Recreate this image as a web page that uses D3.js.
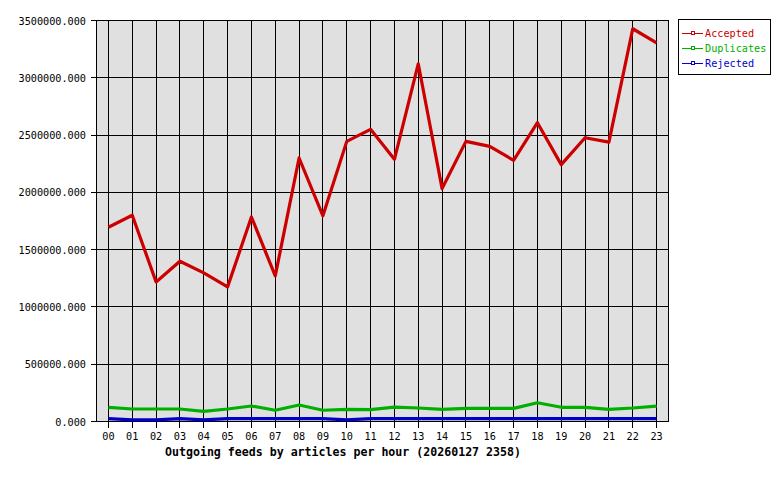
<!DOCTYPE html>
<html><head><meta charset="utf-8">
<script src="https://cdn.jsdelivr.net/npm/d3@7/dist/d3.min.js"></script>
<style>body{margin:0;background:#fff}svg{display:block}text{font-family:"DejaVu Sans Mono","Liberation Mono",monospace}</style>
</head><body><svg id="c" width="780" height="480"></svg>
<script>
const hours = ["00","01","02","03","04","05","06","07","08","09","10","11","12","13","14","15","16","17","18","19","20","21","22","23"];
const accepted = [1695000,1800000,1218000,1399000,1297000,1175000,1785000,1271000,2300000,1795000,2445000,2550000,2288000,3122000,2033000,2445000,2401000,2280000,2608000,2242000,2477000,2439000,3428000,3305000];
const duplicates = [124000,109000,109000,109000,89000,109000,135000,98000,144000,98000,106000,103000,126000,118000,106000,115000,115000,115000,164000,124000,124000,106000,118000,135000];
const rejected = [25000,15000,15000,25000,15000,25000,25000,25000,25000,25000,15000,25000,25000,25000,25000,25000,25000,25000,25000,25000,25000,25000,25000,25000];
const yTicks = [0,500000,1000000,1500000,2000000,2500000,3000000,3500000];
const seriesNames = ["Accepted","Duplicates","Rejected"];
const seriesColors = ["#cc0000","#00b000","#0000cc"];
const title = "Outgoing feeds by articles per hour (20260127 2358)";

const svg = d3.select("#c");
const L=96.5,R=668.5,T=20.5,B=421.5;
const x = d3.scalePoint().domain(hours).range([L,R]).padding(0.5);
const y = d3.scaleLinear().domain([0,3500000]).range([B,T]);
const snap = v => Math.floor(v)+0.5;

svg.append("rect").attr("x",L).attr("y",T).attr("width",R-L).attr("height",B-T).attr("fill","#e0e0e0");
svg.append("g").selectAll("line").data(yTicks).join("line")
  .attr("x1",L-6).attr("x2",R).attr("y1",d=>snap(y(d))).attr("y2",d=>snap(y(d)))
  .attr("stroke","#000").attr("stroke-width",1).attr("shape-rendering","crispEdges");
svg.append("g").selectAll("line").data(hours).join("line")
  .attr("x1",d=>snap(x(d))).attr("x2",d=>snap(x(d))).attr("y1",T).attr("y2",B+6)
  .attr("stroke","#000").attr("stroke-width",1).attr("shape-rendering","crispEdges");
svg.append("rect").attr("x",L).attr("y",T).attr("width",R-L).attr("height",B-T).attr("fill","none").attr("stroke","#000").attr("shape-rendering","crispEdges");

svg.append("g").selectAll("text").data(yTicks).join("text")
  .attr("x",86).attr("y",d=>y(d)+4).attr("text-anchor","end").attr("font-size","10.2px").attr("fill","#000")
  .text(d=>d3.format(".3f")(d));
svg.append("g").selectAll("text").data(hours).join("text")
  .attr("x",d=>x(d)).attr("y",440).attr("text-anchor","middle").attr("font-size","10.2px").attr("fill","#000")
  .text(d=>d);
svg.append("text").attr("x",343).attr("y",456).attr("text-anchor","middle").attr("font-size","11.6px").attr("font-weight","bold").attr("fill","#000").text(title);

const line = d3.line().x((d,i)=>x(hours[i])).y(d=>y(d));
[accepted,duplicates,rejected].forEach((s,k)=>{
  svg.append("path").datum(s).attr("d",line).attr("fill","none").attr("stroke",seriesColors[k]).attr("stroke-width",3.2).attr("stroke-linejoin","round");
});

const lg = svg.append("g");
lg.append("rect").attr("x",678.5).attr("y",19.5).attr("width",92).attr("height",55).attr("fill","#fff").attr("stroke","#000").attr("shape-rendering","crispEdges");
seriesNames.forEach((n,k)=>{
  const yy = 33.5 + k*15;
  lg.append("line").attr("x1",682).attr("x2",703).attr("y1",yy).attr("y2",yy).attr("stroke",seriesColors[k]).attr("shape-rendering","crispEdges");
  lg.append("rect").attr("x",691.5).attr("y",yy-2).attr("width",3).attr("height",3).attr("fill","#fff").attr("stroke",seriesColors[k]).attr("shape-rendering","crispEdges");
  lg.append("text").attr("x",705).attr("y",yy+3.5).attr("font-size","10.2px").attr("fill",seriesColors[k]).text(n);
});
</script></body></html>
